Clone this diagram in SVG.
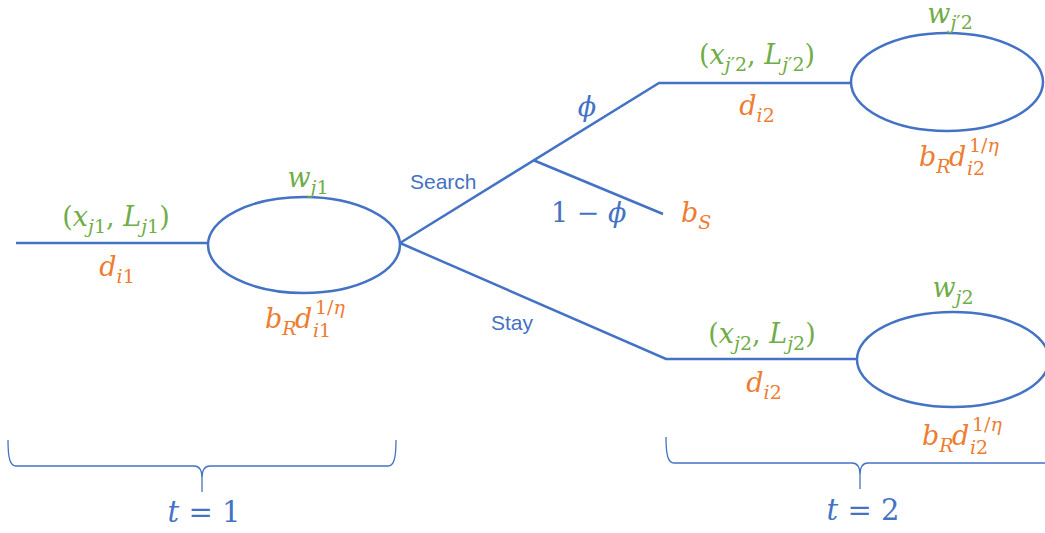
<svg xmlns="http://www.w3.org/2000/svg" width="1045" height="533" viewBox="0 0 1045 533">
<style>
.ln{fill:none;stroke:#4472C4;stroke-width:2.5}
.br{fill:none;stroke:#4472C4;stroke-width:1.3}
.m{font-family:"DejaVu Serif","Liberation Serif",serif;font-size:27px;font-style:italic}
.u{font-style:normal}
.s{font-size:19px}
.g{fill:#70AD47}
.o{fill:#ED7D31}
.b{fill:#4472C4}
.t{font-family:"Liberation Sans",Arial,sans-serif;font-size:21px;fill:#4472C4}
.big{font-size:29px}
</style>
<rect width="1045" height="533" fill="#ffffff"/>
<g id="connectors">
<path class="ln" d="M16,243 H208"/>
<path class="ln" d="M400,243 L659,83 H851"/>
<path class="ln" d="M533,160 L663,214"/>
<path class="ln" d="M400,243 L666,359 H857"/>
</g>
<g id="node-t1">
<ellipse class="ln" cx="304" cy="245" rx="96" ry="48"/>
</g>
<g id="node-search">
<ellipse class="ln" cx="947" cy="82" rx="96" ry="49"/>
</g>
<g id="node-stay">
<ellipse class="ln" cx="953" cy="359.5" rx="96" ry="47.5"/>
</g>
<g id="labels">
<text class="m g" x="116" y="226" text-anchor="middle"><tspan class="u">(</tspan>x<tspan class="s" dy="7">j<tspan class="u">1</tspan></tspan><tspan class="u" dy="-7">, </tspan>L<tspan class="s" dy="7">j<tspan class="u">1</tspan></tspan><tspan class="u" dy="-7">)</tspan></text>
<text class="m o" x="117" y="276" text-anchor="middle">d<tspan class="s" dy="7">i<tspan class="u">1</tspan></tspan></text>
<text class="m g" x="308" y="187" text-anchor="middle">w<tspan class="s" dy="7">j<tspan class="u">1</tspan></tspan></text>
<text class="m o" x="265" y="328">b<tspan class="s" dy="7">R</tspan><tspan x="295" dy="-7">d</tspan><tspan class="s" x="315" y="314"><tspan class="u">1/</tspan>η</tspan><tspan class="s" x="313" y="337">i<tspan class="u">1</tspan></tspan></text>
<text class="t" x="410" y="189">Search</text>
<text class="m b" x="587" y="116" text-anchor="middle">ϕ</text>
<text class="m b" x="551" y="222"><tspan class="u">1 − </tspan>ϕ</text>
<text class="m o" x="681" y="222">b<tspan class="s" dy="7">S</tspan></text>
<text class="m g" x="757" y="64" text-anchor="middle"><tspan class="u">(</tspan>x<tspan class="s" dy="7">j<tspan class="u">′2</tspan></tspan><tspan class="u" dy="-7">, </tspan>L<tspan class="s" dy="7">j<tspan class="u">′2</tspan></tspan><tspan class="u" dy="-7">)</tspan></text>
<text class="m o" x="757" y="115" text-anchor="middle">d<tspan class="s" dy="7">i<tspan class="u">2</tspan></tspan></text>
<text class="m g" x="950" y="23" text-anchor="middle">w<tspan class="s" dy="6">j<tspan class="u">′2</tspan></tspan></text>
<text class="m o" x="919" y="166">b<tspan class="s" dy="7">R</tspan><tspan x="949" dy="-7">d</tspan><tspan class="s" x="969" y="152"><tspan class="u">1/</tspan>η</tspan><tspan class="s" x="967" y="175">i<tspan class="u">2</tspan></tspan></text>
<text class="t" x="491" y="330">Stay</text>
<text class="m g" x="953" y="297" text-anchor="middle">w<tspan class="s" dy="7">j<tspan class="u">2</tspan></tspan></text>
<text class="m g" x="762" y="343" text-anchor="middle"><tspan class="u">(</tspan>x<tspan class="s" dy="7">j<tspan class="u">2</tspan></tspan><tspan class="u" dy="-7">, </tspan>L<tspan class="s" dy="7">j<tspan class="u">2</tspan></tspan><tspan class="u" dy="-7">)</tspan></text>
<text class="m o" x="764" y="392" text-anchor="middle">d<tspan class="s" dy="7">i<tspan class="u">2</tspan></tspan></text>
<text class="m o" x="922" y="445">b<tspan class="s" dy="7">R</tspan><tspan x="952" dy="-7">d</tspan><tspan class="s" x="972" y="431"><tspan class="u">1/</tspan>η</tspan><tspan class="s" x="970" y="454">i<tspan class="u">2</tspan></tspan></text>
<text class="m b big" x="204" y="522" text-anchor="middle">t<tspan class="u"> = 1</tspan></text>
<text class="m b big" x="863" y="520" text-anchor="middle">t<tspan class="u"> = 2</tspan></text>
</g>
<g id="braces">
<path class="br" d="M8,440 C8,458 10,466 16,466 H194 C199,466 202,470 202,478 V492 M202,478 C202,470 205,466 210,466 H388 C394,466 396,458 396,440"/>
<path class="br" d="M666,437 C666,455 668,463 674,463 H852 C857,463 860,467 860,475 V489 M860,475 C860,467 863,463 868,463 H1050"/>
</g>
</svg>
